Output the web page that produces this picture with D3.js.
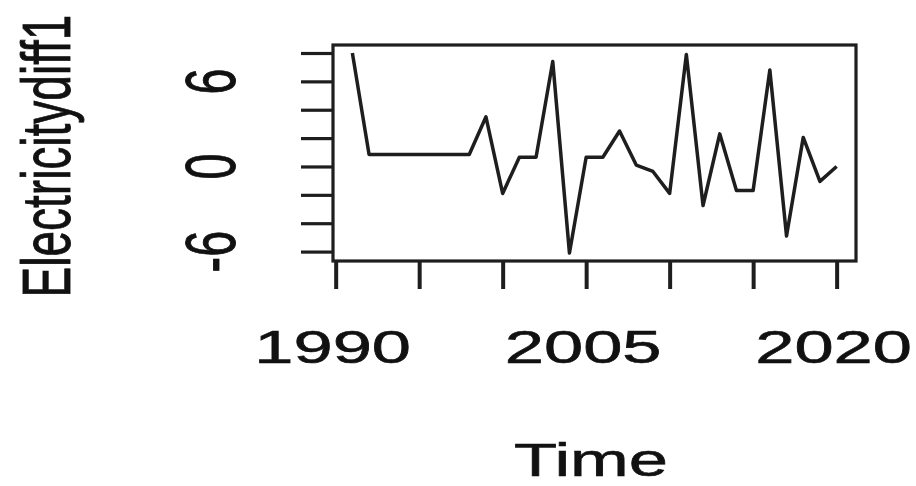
<!DOCTYPE html>
<html>
<head>
<meta charset="utf-8">
<script src="https://cdn.jsdelivr.net/npm/d3@7"></script>
<style>
    body { margin: 0; background: #fff; }
    svg { display: block; }
    text { font-family: "Liberation Sans", Arial, sans-serif; fill: #111; stroke: #111; stroke-width: 0.6px; }
</style>
</head>
<body>
<svg width="916" height="486"></svg>
<script>
"use strict"

// annual differenced series
const years = d3.range(1991, 2021)
const values = [
    8.0, 0.85, 0.85, 0.85, 0.85, 0.85, 0.85, 0.85, 3.5, -1.9,
    0.65, 0.65, 7.4, -6.1, 0.65, 0.65, 2.5, 0.1, -0.35, -1.9,
    7.9, -2.75, 2.3, -1.7, -1.7, 6.8, -4.9, 2.05, -1.05, 0.0
]
const xTicks = [1990, 1995, 2000, 2005, 2010, 2015, 2020]
const xLabels = [1990, 2005, 2020]
const yTicks = [-6, -4, -2, 0, 2, 4, 6, 8]
const yLabels = [-6, 0, 6]

const INK = "#1e1e1e"
const FONT = 47
const STRETCH = 1.5 // the picture is squashed wide, text too

const svg = d3.select("svg")
const box = { left: 333, right: 856, top: 45, bottom: 261 }

// R style: pad the data range by 4% on each side
function padded(ext) {
    const p = (ext[1] - ext[0]) * 0.04
    return [ext[0] - p, ext[1] + p]
}

const x = d3.scaleLinear()
    .domain(padded(d3.extent(years)))
    .range([box.left, box.right])
const y = d3.scaleLinear()
    .domain(padded(d3.extent(values)))
    .range([box.bottom, box.top])

// ticks
const gx = svg.append("g")
    .attr("transform", `translate(0,${box.bottom})`)
    .call(d3.axisBottom(x).tickValues(xTicks).tickSize(28).tickFormat(""))
gx.select(".domain").remove()
gx.selectAll("line").attr("stroke", INK).attr("stroke-width", 4)

const gy = svg.append("g")
    .attr("transform", `translate(${box.left},0)`)
    .call(d3.axisLeft(y).tickValues(yTicks).tickSize(32).tickFormat(""))
gy.select(".domain").remove()
gy.selectAll("line").attr("stroke", INK).attr("stroke-width", 3.2)

// tick labels
svg.selectAll(".xlab")
    .data(xLabels)
    .enter()
    .append("text")
    .attr("class", "xlab")
    .attr("font-size", FONT)
    .attr("text-anchor", "middle")
    .attr("transform", (d) => `translate(${x(d) - 3},363) scale(${STRETCH},1)`)
    .text((d) => d)

svg.selectAll(".ylab")
    .data(yLabels)
    .enter()
    .append("text")
    .attr("class", "ylab")
    .attr("font-size", FONT)
    .attr("text-anchor", "middle")
    .attr("transform", (d) => `translate(235,${y(d)}) scale(${STRETCH},1) rotate(-90)`)
    .text((d) => d)

// axis titles
svg.append("text")
    .attr("font-size", FONT)
    .attr("text-anchor", "middle")
    .attr("transform", `translate(591,476) scale(${STRETCH},1)`)
    .text("Time")

svg.append("text")
    .attr("font-size", 46)
    .attr("text-anchor", "middle")
    .attr("transform", `translate(70,156) scale(${STRETCH},1) rotate(-90)`)
    .text("Electricitydiff1")

// series
const line = d3.line()
    .x((d, i) => x(years[i]))
    .y((d) => y(d))

svg.append("path")
    .datum(values)
    .attr("fill", "none")
    .attr("stroke", INK)
    .attr("stroke-width", 3.5)
    .attr("stroke-linejoin", "round")
    .attr("d", line)

// frame
svg.append("rect")
    .attr("x", box.left)
    .attr("y", box.top)
    .attr("width", box.right - box.left)
    .attr("height", box.bottom - box.top)
    .attr("fill", "none")
    .attr("stroke", INK)
    .attr("stroke-width", 3.2)
</script>
</body>
</html>
